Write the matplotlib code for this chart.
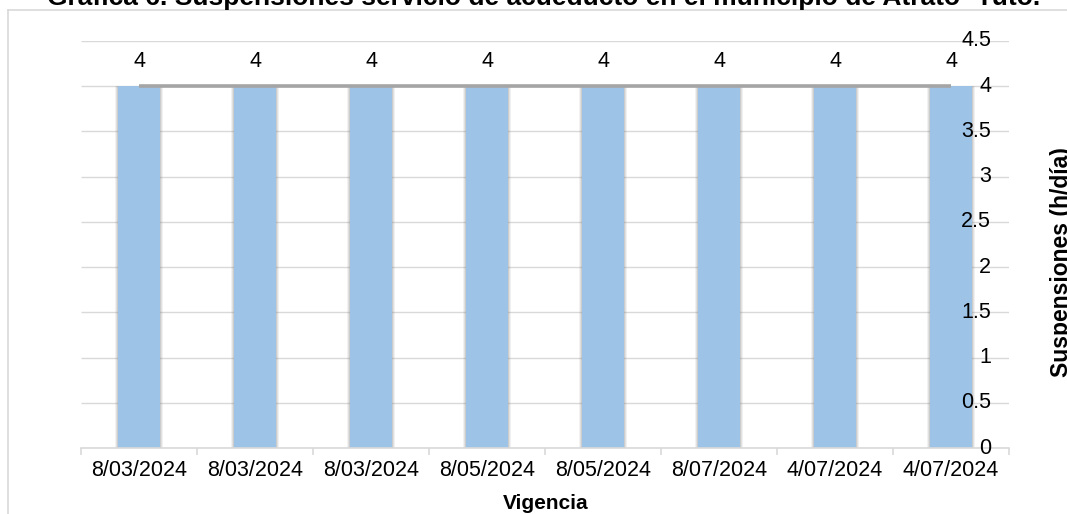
import matplotlib
matplotlib.use("Agg")
import matplotlib.pyplot as plt
from matplotlib.lines import Line2D
from matplotlib.transforms import blended_transform_factory
import numpy as np

plt.rcParams['font.family'] = ['Liberation Sans', 'DejaVu Sans']

categories = ["8/03/2024", "8/03/2024", "8/03/2024", "8/05/2024",
              "8/05/2024", "8/07/2024", "4/07/2024", "4/07/2024"]
bar_values = [4, 4, 4, 4, 4, 4, 4, 4]
line_values = [4, 4, 4, 4, 4, 4, 4, 4]
y_ticks = [0, 0.5, 1, 1.5, 2, 2.5, 3, 3.5, 4, 4.5]
y_ticklabels = ["0", "0.5", "1", "1.5", "2", "2.5", "3", "3.5", "4", "4.5"]

W, H = 1067, 514
fig = plt.figure(figsize=(W / 100, H / 100), dpi=100)

left, right, top, bottom = 81, 1009, 41, 448
ax = fig.add_axes([left / W, 1 - bottom / H, (right - left) / W, (bottom - top) / H])

x = np.arange(len(categories))
bw = 0.355

# gridlines behind bars
ax.hlines(y_ticks, -0.5, len(categories) - 0.5, colors='#D9D9D9', linewidth=1.0, zorder=0)

# shadow
for off, a in [(0.03, 0.10), (0.018, 0.15), (0.008, 0.2)]:
    ax.bar(x, bar_values, width=bw + 2 * off, color='#7f7f7f', alpha=a, zorder=2, linewidth=0)
ax.bar(x, bar_values, width=bw, color='#9DC3E6', zorder=3, linewidth=0)
ax.plot(x, line_values, color='#A5A5A5', linewidth=2.6, zorder=4, solid_capstyle='butt')

for xi, v in zip(x, line_values):
    ax.annotate(str(v), (xi, v), xytext=(0, 14), textcoords='offset points',
                ha='center', va='baseline', fontsize=15.5, color='#000000')

ax.set_xlim(-0.5, len(categories) - 0.5)
ax.set_ylim(0, 4.5)
ax.set_yticks(y_ticks)
ax.set_yticklabels([])
ax.tick_params(axis='y', length=0, left=False, labelleft=False)

# y tick labels drawn on top of bars, right-aligned inside the plot area
trans = blended_transform_factory(ax.transAxes, ax.transData)
lab_x = (991 - left) / (right - left)
for t, lab in zip(y_ticks, y_ticklabels):
    ax.text(lab_x, t, lab, transform=trans, ha='right', va='center',
            fontsize=15.5, color='#000000', zorder=6)

ax.set_xticks(x)
ax.set_xticklabels(categories)
ax.set_xticks(np.arange(-0.5, len(categories), 1.0), minor=True)
ax.tick_params(axis='x', which='major', length=0, pad=9, labelsize=15.5, labelcolor='#000000')
ax.tick_params(axis='x', which='minor', length=5, color='#D9D9D9', width=1.2)

for s in ['top', 'left', 'right']:
    ax.spines[s].set_visible(False)
ax.spines['bottom'].set_color('#D9D9D9')
ax.spines['bottom'].set_linewidth(1.2)
ax.spines['bottom'].set_zorder(5)

# chart border
fig.add_artist(Line2D([8 / W, 8 / W], [1 - 10 / H, 0], color='#D9D9D9', linewidth=1.2))
fig.add_artist(Line2D([8 / W, 1], [1 - 10 / H, 1 - 10 / H], color='#D9D9D9', linewidth=1.2))

fig.text(544 / W, 1 - 5 / H, "Gráfica 6. Suspensiones servicio de acueducto en el municipio de Atrato- Yuto.",
         ha='center', va='baseline', fontsize=19, fontweight='bold')
fig.text(546 / W, 1 - 509 / H, "Vigencia", ha='center', va='baseline', fontsize=15, fontweight='bold')
fig.text(1050 / W, 1 - 262 / H, "Suspensiones (h/día)", ha='center', va='top', rotation=90,
         rotation_mode='anchor', fontsize=16.5, fontweight='bold')

fig.savefig("out.png", dpi=100)
